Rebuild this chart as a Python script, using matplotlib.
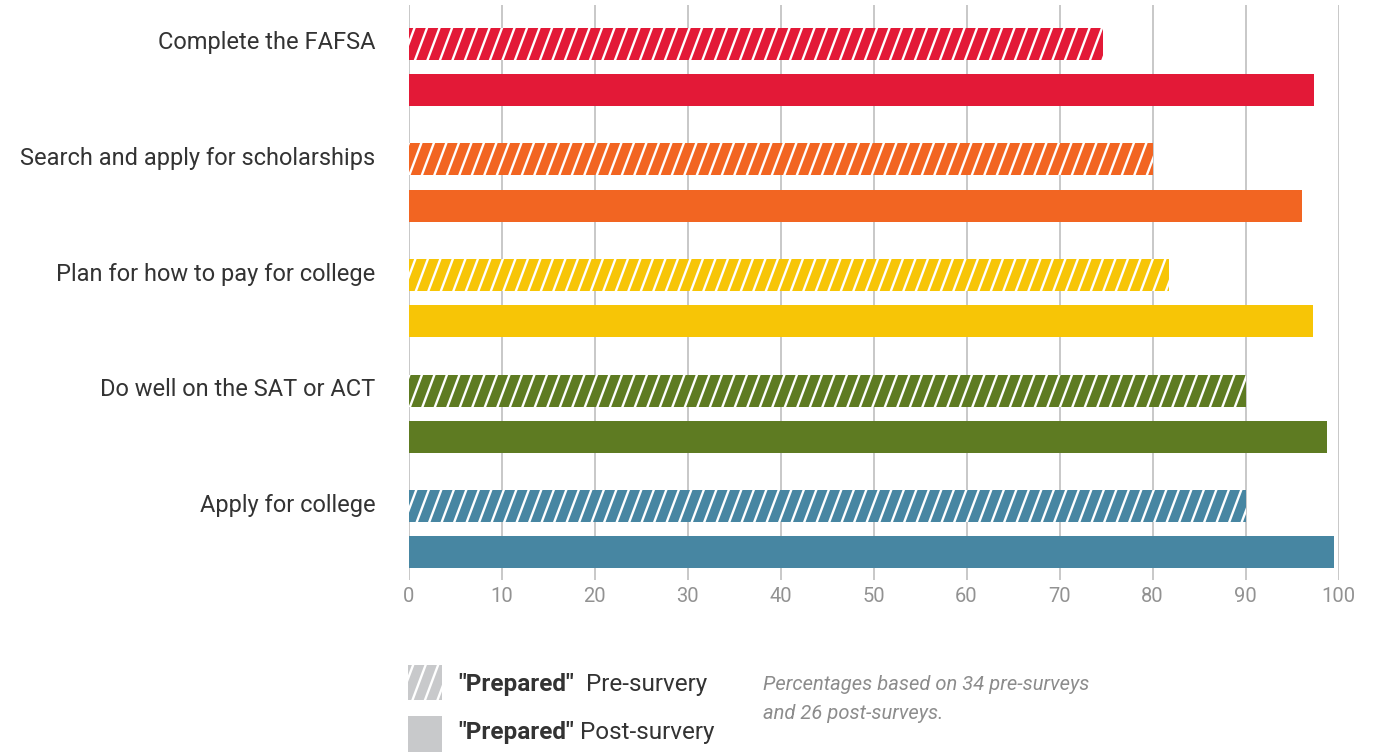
import numpy as np
import matplotlib
matplotlib.use("Agg")
import matplotlib.pyplot as plt
import matplotlib.hatch as mhatch
from matplotlib.path import Path
from matplotlib.patches import Rectangle
from matplotlib import font_manager

# ---------------- data ----------------
categories = ["Complete the FAFSA", "Search and apply for scholarships",
              "Plan for how to pay for college", "Do well on the SAT or ACT",
              "Apply for college"]
pre_values = [74.7, 80.0, 81.8, 90.0, 90.0]
post_values = [97.4, 96.1, 97.3, 98.8, 99.5]
colors = ["#E31937", "#F26522", "#F7C506", "#5E7B22", "#4786A2"]
x_ticks = [0, 10, 20, 30, 40, 50, 60, 70, 80, 90, 100]
legend_labels = [("Prepared", "Pre-survery"), ("Prepared", "Post-survery")]
note_text = "Percentages based on 34 pre-surveys\nand 26 post-surveys."

# ---------------- steep stripe hatch ----------------
class SteepHatch(mhatch.HatchPatternBase):
    def __init__(self, hatch, density):
        self.on = hatch.count('/') > 0
        self.n = 8
        self.shift = 3
        self.ks = list(range(-self.shift - 1, self.n + 1))
        self.num_vertices = 2 * len(self.ks) if self.on else 0

    def set_vertices_and_codes(self, vertices, codes):
        t0, t1 = -0.15, 1.15
        for i, k in enumerate(self.ks):
            vertices[2 * i] = ((k + t0 * self.shift) / self.n, t0)
            vertices[2 * i + 1] = ((k + t1 * self.shift) / self.n, t1)
            codes[2 * i] = Path.MOVETO
            codes[2 * i + 1] = Path.LINETO

mhatch._hatch_types[2] = SteepHatch

# ---------------- fonts ----------------
avail = {f.name for f in font_manager.fontManager.ttflist}
fam = [f for f in ["Liberation Sans Narrow", "Roboto", "DejaVu Sans"] if f in avail]
plt.rcParams['font.family'] = fam
plt.rcParams['hatch.linewidth'] = 1.7
plt.rcParams['hatch.color'] = 'white'

fig = plt.figure(figsize=(13.74, 7.52), dpi=100)
W, H = 1374, 752
ax = fig.add_axes([408.5 / W, 1 - 580 / H, (1338.5 - 408.5) / W, (580 - 5) / H])

grp = np.arange(len(categories))
off = 0.2
bh = 0.277
for i in grp:
    ax.barh(i - off, pre_values[i], height=bh, color=colors[i], edgecolor='white',
            hatch='/', linewidth=0, zorder=3)
    ax.barh(i + off, post_values[i], height=bh, color=colors[i], linewidth=0, zorder=3)

ax.set_xlim(0, 100)
ax.set_ylim(4.44, -0.537)
ax.set_xticks(x_ticks)
ax.set_xticklabels([str(t) for t in x_ticks])
ax.set_yticks(grp - off - 0.03)
ax.set_yticklabels(categories)
ax.tick_params(axis='x', length=0, pad=5, labelsize=14.5, labelcolor='#929292')
ax.tick_params(axis='y', length=0, pad=24, labelsize=17, labelcolor='#333333')
for s in ax.spines.values():
    s.set_visible(False)
ax.grid(axis='x', color='#c4c4c4', linewidth=1.3, zorder=0)
ax.grid(axis='y', visible=False)
ax.set_facecolor('none')

# ---------------- legend ----------------
lax = fig.add_axes([0, 0, 1, 1])
lax.set_xlim(0, W)
lax.set_ylim(H, 0)
lax.axis('off')
lax.add_patch(Rectangle((408, 665), 34, 35, facecolor='#C8C9CB', edgecolor='white',
                        hatch='/', linewidth=0))
lax.add_patch(Rectangle((408, 716), 34, 40, facecolor='#C8C9CB', linewidth=0))

fig.canvas.draw()
renderer = fig.canvas.get_renderer()
inv = lax.transData.inverted()
for (bold, rest), yc in zip(legend_labels, [685, 733]):
    t1 = lax.text(458, yc, '"' + bold + '"', fontsize=17.5, fontweight='bold',
                  color='#333333', va='center', ha='left')
    bb = t1.get_window_extent(renderer)
    gap = 12 if rest.startswith("Pre") else 6
    xd, _ = inv.transform((bb.x1 + gap, 0))
    lax.text(xd, yc, rest, fontsize=17.5, color='#333333', va='center', ha='left')

lax.text(763, 675, note_text, fontsize=14.5, style='italic',
         color='#8c8c8c', va='top', ha='left', linespacing=1.65)

fig.savefig("out.png", dpi=100)
